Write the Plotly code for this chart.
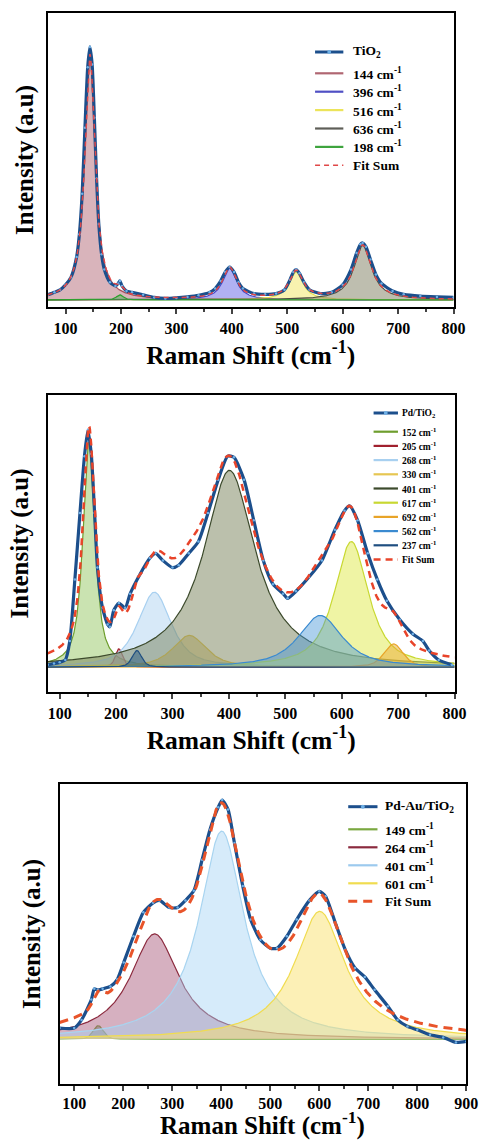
import numpy as np
import plotly.graph_objects as go

# ---------------- Panel 1 : TiO2 ----------------
p1_x = [68, 80, 90, 100, 110, 120, 125, 130, 135, 140, 144, 148, 152, 156, 160, 165, 170, 180,
        190, 195, 198, 202, 210, 220, 240, 260, 280, 300, 320, 340, 360, 370, 380, 388, 396,
        404, 412, 420, 440, 460, 480, 495, 505, 511, 516, 522, 530, 540, 560, 580, 600, 615,
        625, 632, 636, 642, 650, 660, 670, 690, 710, 740, 770, 800]
p1_y = [0.02, 0.03, 0.04, 0.06, 0.09, 0.17, 0.26, 0.42, 0.68, 0.92, 1.00, 0.93, 0.72, 0.48,
        0.30, 0.18, 0.12, 0.07, 0.055, 0.065, 0.075, 0.055, 0.035, 0.03, 0.02, 0.01, 0.006,
        0.008, 0.012, 0.018, 0.03, 0.045, 0.075, 0.11, 0.13, 0.11, 0.07, 0.045, 0.025, 0.022,
        0.025, 0.04, 0.08, 0.11, 0.12, 0.105, 0.07, 0.04, 0.025, 0.03, 0.06, 0.12, 0.185, 0.22,
        0.225, 0.21, 0.16, 0.10, 0.065, 0.035, 0.022, 0.015, 0.012, 0.01]
p1_names = ["144 cm<sup>-1</sup>", "396 cm<sup>-1</sup>", "516 cm<sup>-1</sup>",
            "636 cm<sup>-1</sup>", "198 cm<sup>-1</sup>"]
p1_center = [144, 396, 516, 636, 198]
p1_height = [0.97, 0.125, 0.11, 0.215, 0.02]
p1_fwhm = [22, 30, 30, 38, 15]
p1_eta = [1.0, 1.0, 1.0, 1.0, 0.5]
p1_line = ["#a8505c", "#4646c8", "#e8e050", "#4d4d42", "#2ea02e"]
p1_fill = ["rgba(180,105,120,0.50)", "rgba(100,100,230,0.50)", "rgba(242,232,110,0.55)",
           "rgba(125,125,95,0.50)", "rgba(80,180,80,0.50)"]
p1_legend_line = ["#b06672", "#5050c4", "#ece45a", "#5e5e58", "#3ea43e"]

# ---------------- Panel 2 : Pd/TiO2 ----------------
p2_x = [79, 90, 100, 110, 118, 127, 136, 144, 150, 156, 162, 167, 176, 185, 189, 196, 205, 216,
        225, 242, 260, 270, 283, 300, 311, 329, 346, 363, 381, 398, 409, 427, 444, 461, 478,
        496, 504, 519, 542, 565, 588, 605, 614, 628, 646, 663, 680, 703, 726, 744, 755, 772,
        795]
p2_y = [0.01, 0.015, 0.02, 0.03, 0.11, 0.37, 0.65, 0.89, 1.00, 0.90, 0.65, 0.42, 0.25, 0.18,
        0.17, 0.24, 0.27, 0.25, 0.31, 0.39, 0.46, 0.48, 0.45, 0.42, 0.43, 0.48, 0.53, 0.65,
        0.79, 0.89, 0.885, 0.79, 0.62, 0.45, 0.35, 0.31, 0.29, 0.32, 0.38, 0.45, 0.58, 0.66,
        0.68, 0.62, 0.48, 0.37, 0.28, 0.20, 0.14, 0.11, 0.07, 0.03, 0.01]
p2_names = ["152 cm<sup>-1</sup>", "205 cm<sup>-1</sup>", "268 cm<sup>-1</sup>",
            "330 cm<sup>-1</sup>", "401 cm<sup>-1</sup>", "617 cm<sup>-1</sup>",
            "692 cm<sup>-1</sup>", "562 cm<sup>-1</sup>", "237 cm<sup>-1</sup>"]
p2_center = [152, 205, 268, 330, 401, 617, 692, 562, 237]
p2_height = [0.95, 0.077, 0.316, 0.134, 0.83, 0.53, 0.098, 0.218, 0.07]
p2_fwhm = [25, 15, 70, 70, 110, 72, 40, 92, 20]
p2_eta = [0.8, 0.5, 0.7, 0.7, 1.0, 0.8, 0.5, 0.8, 0.5]
p2_line = ["#6e9e2e", "#a0202e", "#a8d0f0", "#e6c652", "#3c4a2c", "#c8d832", "#e8a428",
           "#3a8ad0", "#1f4e80"]
p2_fill = ["rgba(150,200,100,0.50)", "rgba(170,60,80,0.40)", "rgba(175,212,242,0.50)",
           "rgba(205,175,70,0.45)", "rgba(120,130,90,0.50)", "rgba(225,235,90,0.55)",
           "rgba(235,170,50,0.50)", "rgba(70,150,215,0.45)", "rgba(40,90,130,0.50)"]
p2_legend_line = p2_line

# ---------------- Panel 3 : Pd-Au/TiO2 ----------------
p3_x = [70, 100, 115, 135, 141, 148, 158, 174, 188, 201, 221, 241, 261, 274, 294, 311, 327,
        344, 361, 377, 394, 402, 414, 427, 444, 460, 480, 500, 514, 534, 554, 580, 600, 613,
        633, 653, 673, 693, 713, 740, 760, 780, 800, 826, 853, 879, 900]
p3_y = [0.046, 0.046, 0.08, 0.165, 0.21, 0.205, 0.21, 0.22, 0.25, 0.32, 0.43, 0.53, 0.57,
        0.58, 0.55, 0.55, 0.58, 0.62, 0.75, 0.876, 0.97, 1.00, 0.96, 0.82, 0.64, 0.50, 0.415,
        0.38, 0.38, 0.43, 0.50, 0.58, 0.618, 0.597, 0.485, 0.374, 0.297, 0.26, 0.206, 0.137,
        0.08, 0.053, 0.039, 0.018, 0.007, -0.014, -0.01]
p3_names = ["149 cm<sup>-1</sup>", "264 cm<sup>-1</sup>", "401 cm<sup>-1</sup>",
            "601 cm<sup>-1</sup>"]
p3_center = [149, 264, 401, 601]
p3_height = [0.056, 0.44, 0.87, 0.534]
p3_fwhm = [25, 120, 110, 125]
p3_eta = [0.2, 1.0, 1.0, 1.0]
p3_line = ["#7aa840", "#8b2a3e", "#a8d4f0", "#f0dc50"]
p3_fill = ["rgba(110,150,110,0.55)", "rgba(165,80,115,0.45)", "rgba(165,210,245,0.45)",
           "rgba(250,225,110,0.50)"]
p3_legend_line = ["#7aa840", "#8b2a3e", "#9ccaee", "#f0dc50"]

panel_titles = ["TiO<sub>2</sub>", "Pd/TiO<sub>2</sub>", "Pd-Au/TiO<sub>2</sub>"]
x_title = "Raman Shift (cm<sup>-1</sup>)"
y_title = "Intensity (a.u)"
x_ranges = [[68, 800], [79, 800], [70, 900]]
y_ranges = [[-0.028, 1.134], [-0.105, 1.148], [-0.188, 1.067]]

W, H = 488, 1141
x_dom_px = [(49, 465), (49, 466), (61, 478)]
y_dom_px = [(13, 307), (395, 692), (784, 1084)]
# legend layout (pixels): line x0, line x1, text x, first row y, second row y, row step, font
legend_px = [(323, 352, 360, 52, 73.3, 18.4, 13.5),
             (383, 408, 410, 413, 431.7, 14.2, 9.5),
             (357, 387, 393, 806.7, 829.3, 18.0, 13.5)]
y_title_standoff = [5, 10, 10]
tick_standoff = [1, 1, -1]
bottom_title_y_px = 1123


def pv(x, c, h, w, eta):
    g = np.exp(-4 * np.log(2) * ((x - c) / w) ** 2)
    l = 1.0 / (1 + (2 * (x - c) / w) ** 2)
    return h * (eta * l + (1 - eta) * g)


FONT = "Liberation Serif"
DATA_COLOR = "#1c4f8c"
MARK_COLOR = "#6fb0e6"
fig = go.Figure()

panels = [
    (p1_x, p1_y, p1_names, p1_center, p1_height, p1_fwhm, p1_eta, p1_line, p1_fill, p1_legend_line),
    (p2_x, p2_y, p2_names, p2_center, p2_height, p2_fwhm, p2_eta, p2_line, p2_fill, p2_legend_line),
    (p3_x, p3_y, p3_names, p3_center, p3_height, p3_fwhm, p3_eta, p3_line, p3_fill, p3_legend_line),
]
fit_styles = [dict(color="#e04848", width=1.5, dash="5px,4px"),
              dict(color="#e8442a", width=2.5, dash="7px,5px"),
              dict(color="#e8542a", width=3, dash="9px,6px")]

shapes = []
annotations = []
for i, (dx, dy, names, cen, hei, fw, eta, lc, fc, llc) in enumerate(panels):
    xa = "x" if i == 0 else f"x{i+1}"
    ya = "y" if i == 0 else f"y{i+1}"
    grid = np.linspace(x_ranges[i][0], x_ranges[i][1], 900)
    total = np.zeros_like(grid)
    comps = []
    for k in range(len(names)):
        yk = pv(grid, cen[k], hei[k], fw[k], eta[k])
        total += yk
        comps.append(yk)
    for k in range(len(names)):
        fig.add_trace(go.Scatter(x=grid, y=comps[k], mode="lines", name=names[k],
                                 line=dict(color=lc[k], width=1.2), fill="tozeroy",
                                 fillcolor=fc[k], xaxis=xa, yaxis=ya, showlegend=False))
    fig.add_trace(go.Scatter(x=dx, y=dy, mode="lines+markers", name=panel_titles[i],
                             line=dict(color=DATA_COLOR, width=3.2, shape="spline", smoothing=0.6),
                             marker=dict(color=MARK_COLOR, size=2.5),
                             xaxis=xa, yaxis=ya, showlegend=False))
    fig.add_trace(go.Scatter(x=grid, y=total, mode="lines", name="Fit Sum",
                             line=fit_styles[i], xaxis=xa, yaxis=ya, showlegend=False))

    # legend drawn as real text with short line samples
    lx0, lx1, tx, y_first, y_second, step, fs = legend_px[i]
    labels = [panel_titles[i]] + names + ["Fit Sum"]
    styles = ([dict(color=DATA_COLOR, width=3)] +
              [dict(color=c, width=2.2) for c in llc] + [fit_styles[i]])
    for r, (lab, st) in enumerate(zip(labels, styles)):
        yy = y_first if r == 0 else y_second + step * (r - 1)
        yp = 1 - yy / H
        shapes.append(dict(type="line", xref="paper", yref="paper", x0=lx0 / W, x1=lx1 / W,
                           y0=yp, y1=yp, line=st))
        if r == 0:
            xm = (lx0 + lx1) / 2
            shapes.append(dict(type="circle", xref="paper", yref="paper",
                               x0=(xm - 2) / W, x1=(xm + 2) / W, y0=yp - 2 / H, y1=yp + 2 / H,
                               fillcolor=MARK_COLOR, line=dict(width=0)))
        annotations.append(dict(text=lab, xref="paper", yref="paper", x=tx / W, y=yp,
                                xanchor="left", yanchor="middle", showarrow=False,
                                font=dict(family=FONT, size=fs, weight="bold", color="black")))

# bottom panel x-title sits at the very bottom edge (like the reference), so place it directly
annotations.append(dict(text=x_title, xref="paper", yref="paper",
                        x=(x_dom_px[2][0] + x_dom_px[2][1]) / 2 / W, y=1 - bottom_title_y_px / H,
                        xanchor="center", yanchor="middle", showarrow=False,
                        font=dict(family=FONT, size=25, weight="bold", color="black")))

axis_common = dict(showline=True, linewidth=2, linecolor="black", mirror=True,
                   showgrid=False, zeroline=False)
layout = dict(width=W, height=H, margin=dict(l=0, r=0, t=0, b=0),
              plot_bgcolor="white", paper_bgcolor="white", showlegend=False,
              font=dict(family=FONT, color="black"), shapes=shapes, annotations=annotations)
for i in range(3):
    xs = "xaxis" if i == 0 else f"xaxis{i+1}"
    ys = "yaxis" if i == 0 else f"yaxis{i+1}"
    xd = [x_dom_px[i][0] / W, x_dom_px[i][1] / W]
    yd = [1 - y_dom_px[i][1] / H, 1 - y_dom_px[i][0] / H]
    xax = dict(axis_common, domain=xd, range=x_ranges[i],
               anchor="y" if i == 0 else f"y{i+1}",
               ticks="outside", ticklen=5, tickwidth=2, dtick=100, tick0=0,
               ticklabelstandoff=tick_standoff[i],
               minor=dict(ticks="outside", ticklen=3, tickwidth=2, dtick=50),
               tickfont=dict(family=FONT, size=16, weight="bold"))
    if i < 2:
        xax["title"] = dict(text=x_title, standoff=2,
                            font=dict(family=FONT, size=25.5, weight="bold"))
    layout[xs] = xax
    layout[ys] = dict(axis_common, domain=yd, range=y_ranges[i],
                      anchor="x" if i == 0 else f"x{i+1}",
                      showticklabels=False, ticks="",
                      title=dict(text=y_title, standoff=y_title_standoff[i],
                                 font=dict(family=FONT, size=25, weight="bold")))

fig.update_layout(**layout)
fig.write_html("out.html", config={"displayModeBar": False},
               post_script="document.body.style.margin='0px';document.body.style.overflow='hidden';")
